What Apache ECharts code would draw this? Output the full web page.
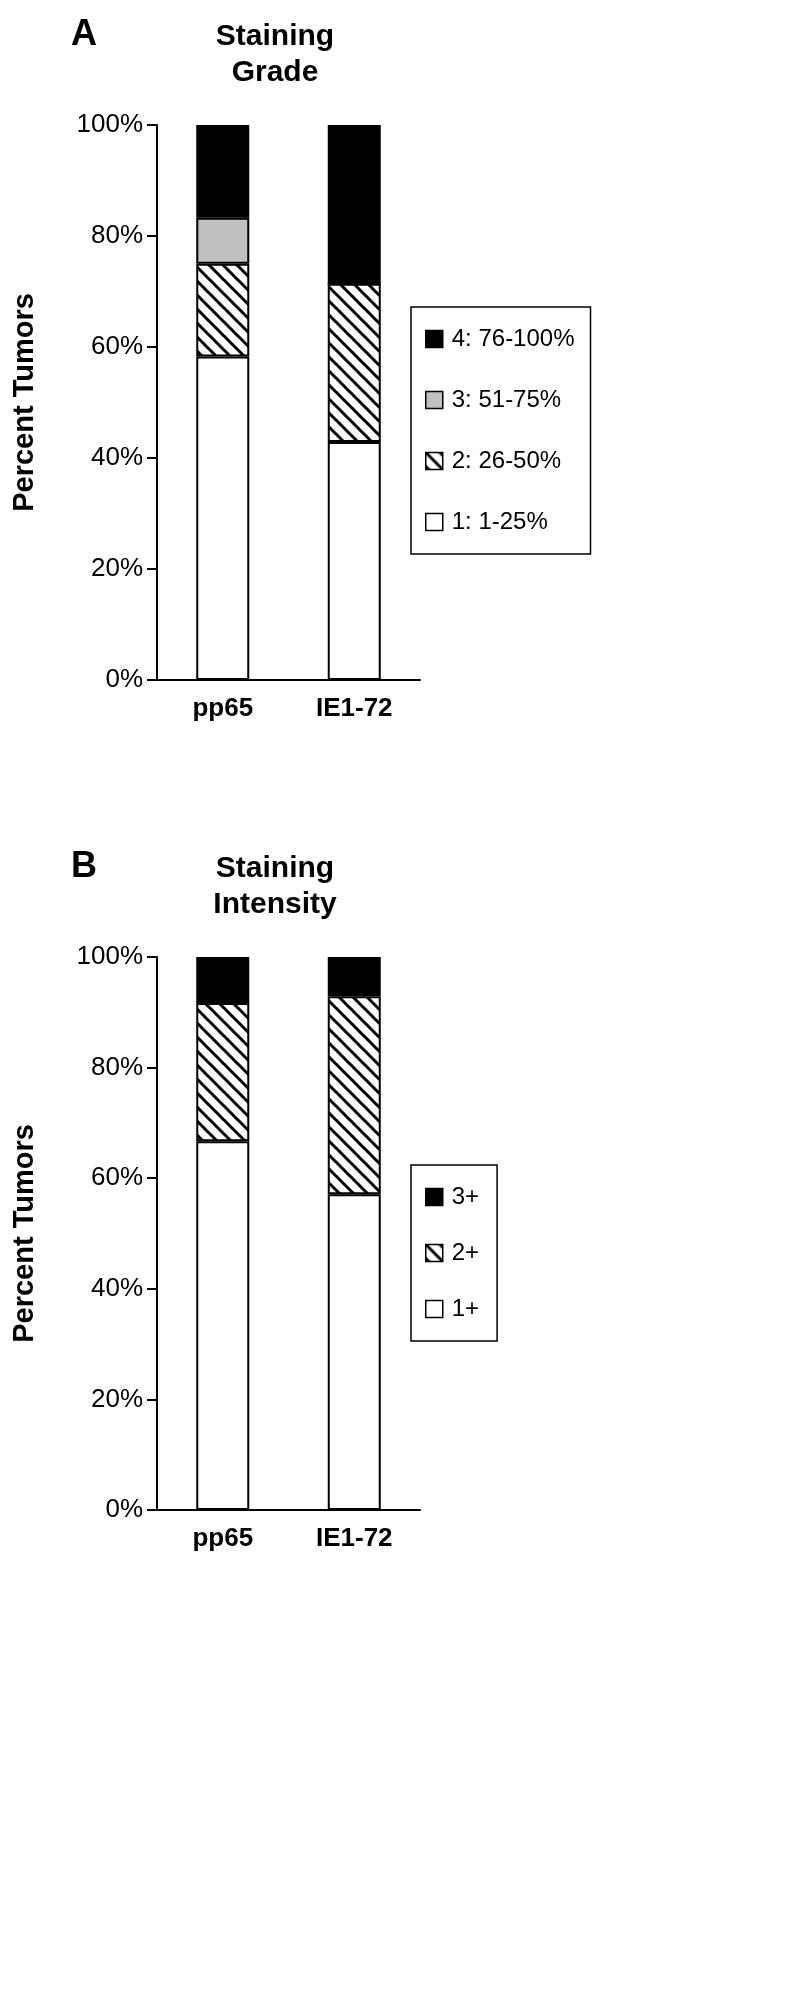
<!DOCTYPE html>
<html>
<head>
<meta charset="utf-8">
<script src="https://cdn.jsdelivr.net/npm/echarts@6/dist/echarts.min.js"></script>
<style>html,body{margin:0;padding:0;background:#fff}#main{width:798px;height:1995px}</style>
</head>
<body>
<div id="main"></div>
<script>
// 数据
var categories = ['pp65', 'IE1-72'];
var gradeNames = ['1: 1-25%', '2: 26-50%', '3: 51-75%', '4: 76-100%'];
var gradeValues = [
    [58.3, 42.9],
    [16.7, 28.5],
    [8.3, 0],
    [16.7, 28.6]
];
var intensityNames = ['1+', '2+', '3+'];
var intensityValues = [
    [66.7, 57.1],
    [25.0, 35.8],
    [8.3, 7.1]
];

// 斜线填充
function hatch() {
    var c = document.createElement('canvas');
    c.width = 14; c.height = 14;
    var ctx = c.getContext('2d');
    ctx.fillStyle = '#fff';
    ctx.fillRect(0, 0, 14, 14);
    ctx.strokeStyle = '#000';
    ctx.lineWidth = 3;
    for (var k = -14; k <= 14; k += 14) {
        ctx.beginPath();
        ctx.moveTo(k - 2, -2);
        ctx.lineTo(k + 16, 16);
        ctx.stroke();
    }
    return { image: c, repeat: 'repeat' };
}
var hatchFill = hatch();
var gradeColors = ['#fff', hatchFill, '#c0c0c0', '#000'];
var intensityColors = ['#fff', hatchFill, '#000'];

var font = 'Liberation Sans, Arial, sans-serif';
var chart = echarts.init(document.getElementById('main'));

function yAxis(idx) {
    return {
        gridIndex: idx, type: 'value', min: 0, max: 100, interval: 20,
        name: 'Percent Tumors', nameLocation: 'middle', nameGap: 118, nameRotate: 90,
        nameTextStyle: { fontSize: 29, fontWeight: 'bold', color: '#000', fontFamily: font },
        axisLine: { show: true, lineStyle: { color: '#000', width: 2 } },
        axisTick: { show: true, length: 10, lineStyle: { color: '#000', width: 2 } },
        axisLabel: { formatter: '{value}%', fontSize: 26, color: '#000', margin: 14, fontFamily: font },
        splitLine: { show: false }
    };
}
function xAxis(idx) {
    return {
        gridIndex: idx, type: 'category', data: categories,
        axisLine: { lineStyle: { color: '#000', width: 2 } },
        axisTick: { length: 10, inside: false, lineStyle: { color: '#000', width: 2 } },
        axisLabel: { fontSize: 26, fontWeight: 'bold', color: '#000', margin: 16, fontFamily: font }
    };
}

var series = [];
gradeNames.forEach(function (n, i) {
    series.push({
        name: n, type: 'bar', stack: 'a', xAxisIndex: 0, yAxisIndex: 0,
        barWidth: 53, data: gradeValues[i],
        itemStyle: { color: gradeColors[i], borderColor: '#000', borderWidth: 2 }
    });
});
intensityNames.forEach(function (n, i) {
    series.push({
        name: n, type: 'bar', stack: 'b', xAxisIndex: 1, yAxisIndex: 1,
        barWidth: 53, data: intensityValues[i],
        itemStyle: { color: intensityColors[i], borderColor: '#000', borderWidth: 2 }
    });
});

function legend(names, top, gap, right) {
    return {
        data: names.slice().reverse(), orient: 'vertical', left: 411, top: top,
        height: 400,
        padding: [20, right, 20, 14], itemGap: gap, itemWidth: 17, itemHeight: 17,
        borderColor: '#000', borderWidth: 1.5, selectedMode: false,
        icon: 'rect',
        itemStyle: { borderColor: '#000', borderWidth: 1.5 },
        textStyle: { fontSize: 24, color: '#000', fontFamily: font, padding: [0, 0, 0, 4] }
    };
}

chart.setOption({
    animation: false,
    title: [
        { text: 'A', left: 66, top: 12, textStyle: { fontSize: 36, fontWeight: 'bold', color: '#000', fontFamily: font } },
        { text: 'Staining\nGrade', left: 270, top: 14, textAlign: 'center', textStyle: { fontSize: 30, fontWeight: 'bold', color: '#000', lineHeight: 36, fontFamily: font } },
        { text: 'B', left: 66, top: 844, textStyle: { fontSize: 36, fontWeight: 'bold', color: '#000', fontFamily: font } },
        { text: 'Staining\nIntensity', left: 270, top: 846, textAlign: 'center', textStyle: { fontSize: 30, fontWeight: 'bold', color: '#000', lineHeight: 36, fontFamily: font } }
    ],
    legend: [
        legend(gradeNames, 307, 37, 16),
        legend(intensityNames, 1165, 32, 18)
    ],
    grid: [
        { left: 157, top: 125, width: 263, height: 555 },
        { left: 157, top: 957, width: 263, height: 553 }
    ],
    xAxis: [xAxis(0), xAxis(1)],
    yAxis: [yAxis(0), yAxis(1)],
    series: series
});
</script>
</body>
</html>
